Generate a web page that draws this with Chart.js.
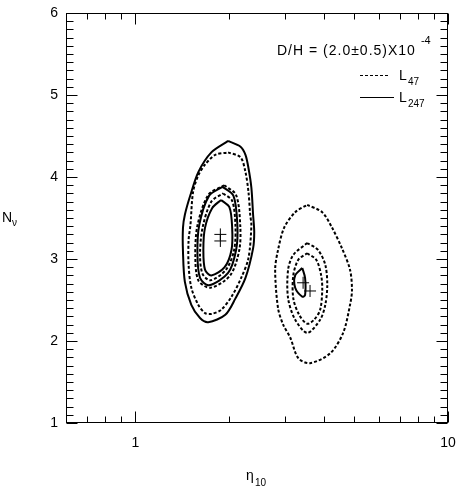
<!DOCTYPE html>
<html><head><meta charset="utf-8">
<script src="https://cdn.jsdelivr.net/npm/chart.js@4.4.1/dist/chart.umd.min.js"></script>
<style>html,body{margin:0;padding:0;background:#fff}#wrap{width:461px;height:488px}</style>
</head><body><div id="wrap"><canvas id="c" width="461" height="488"></canvas></div>
<script>
// ---- axis ticks ----
const xTickLabels = [1, 10];
const xMinorTicks = [0.7, 0.8, 0.9, 2, 3, 4, 5, 6, 7, 8, 9];
const yTickLabels = [1, 2, 3, 4, 5, 6];

// ---- contours (eta10, N_nu) ----
// left group, L247 (solid) and L47 (dashed)
const L247_outer = [[1.98,4.44],[2.17,4.37],[2.25,4.27],[2.30,4.11],[2.35,3.87],[2.38,3.54],[2.40,3.33],[2.38,3.13],[2.25,2.77],[2.09,2.52],[1.94,2.32],[1.71,2.23],[1.61,2.28],[1.51,2.44],[1.44,2.72],[1.42,3.09],[1.42,3.38],[1.44,3.54],[1.50,3.78],[1.59,4.06],[1.75,4.30],[1.98,4.44]];
const L47_outerA = [[1.98,4.30],[2.17,4.24],[2.25,4.06],[2.30,3.82],[2.33,3.54],[2.35,3.41],[2.30,3.01],[2.18,2.77],[2.03,2.54],[1.88,2.38],[1.75,2.33],[1.67,2.34],[1.59,2.44],[1.51,2.65],[1.48,2.93],[1.48,3.23],[1.50,3.41],[1.53,3.82],[1.59,4.02],[1.67,4.15],[1.80,4.27],[1.98,4.30]];
const L47_innerA = [[1.925,3.90],[2.10,3.78],[2.165,3.41],[2.15,3.11],[2.01,2.80],[1.74,2.65],[1.59,2.74],[1.555,3.05],[1.58,3.41],[1.71,3.78],[1.925,3.90]];
const L247_innerA = [[1.90,3.88],[2.06,3.77],[2.12,3.41],[2.10,3.11],[1.98,2.83],[1.72,2.68],[1.61,2.77],[1.58,3.05],[1.60,3.41],[1.72,3.77],[1.90,3.88]];
const L47_innerB = [[1.91,3.80],[2.04,3.71],[2.09,3.41],[2.07,3.11],[1.95,2.87],[1.74,2.74],[1.64,2.82],[1.61,3.05],[1.64,3.38],[1.75,3.70],[1.91,3.80]];
const L247_innerB = [[1.88,3.72],[2.00,3.63],[2.04,3.38],[2.03,3.11],[1.93,2.90],[1.75,2.80],[1.67,2.87],[1.65,3.11],[1.67,3.38],[1.76,3.62],[1.88,3.72]];
// right group
const L47_outerB = [[3.545,3.66],[3.96,3.57],[4.26,3.38],[4.58,3.13],[4.86,2.87],[4.93,2.62],[4.86,2.44],[4.62,2.10],[4.20,1.85],[3.62,1.73],[3.32,1.79],[3.13,2.04],[2.97,2.20],[2.86,2.40],[2.80,2.87],[2.86,3.11],[2.99,3.38],[3.245,3.57],[3.545,3.66]];
const L47_midB = [[3.545,3.195],[3.84,3.11],[4.05,2.93],[4.11,2.68],[4.05,2.44],[3.90,2.26],[3.545,2.10],[3.245,2.26],[3.08,2.52],[3.08,2.87],[3.20,3.05],[3.545,3.195]];
const L47_innerC = [[3.545,3.07],[3.79,2.99],[3.93,2.80],[3.96,2.62],[3.90,2.38],[3.73,2.26],[3.545,2.21],[3.34,2.32],[3.20,2.52],[3.20,2.80],[3.32,2.99],[3.545,3.07]];
const L247_small = [[3.42,2.89],[3.245,2.80],[3.245,2.65],[3.42,2.54],[3.49,2.56],[3.49,2.77],[3.42,2.89]];
// best-fit crosses
const bestFit = [[1.87,3.30],[1.87,3.22],[3.44,2.71],[3.62,2.61]];

const legendTitle = 'D/H = (2.0\u00B10.5)X10';
const legendExp = '-4';
const seriesNames = ['47', '247'];

const FONT = '"Liberation Sans", Arial, Helvetica, sans-serif';
const toPts = a => a.map(p => ({x: p[0], y: p[1]}));
function contour(arr, dashed, width) {
  return {data: toPts(arr), showLine: true, borderColor: '#000', borderWidth: width || 2,
    borderDash: dashed ? [3, 2] : [], pointRadius: 0, tension: 0.3, fill: false};
}

const framePlugin = {
  id: 'frame',
  afterDraw(chart) {
    const {ctx, chartArea: a, scales: {x, y}} = chart;
    ctx.save();
    ctx.strokeStyle = '#000';
    ctx.lineWidth = 1;
    const L = Math.round(a.left) + 0.5, R = Math.round(a.right) - 0.5;
    const T = Math.round(a.top) + 0.5, B = Math.round(a.bottom) - 0.5;
    ctx.strokeRect(L, T, R - L, B - T);
    ctx.beginPath();
    for (let i = 10; i <= 60; i++) {
      const v = i / 10, py = Math.round(y.getPixelForValue(v)) + 0.5;
      const len = (i % 10 === 0) ? 11 : 7;
      ctx.moveTo(L, py); ctx.lineTo(L + len, py);
      ctx.moveTo(R, py); ctx.lineTo(R - len, py);
    }
    const xt = xMinorTicks.map(v => [v, 6]).concat(xTickLabels.map(v => [v, 11]));
    xt.forEach(([v, len]) => {
      const px = Math.round(x.getPixelForValue(v)) + 0.5;
      ctx.moveTo(px, B); ctx.lineTo(px, B - len);
      ctx.moveTo(px, T); ctx.lineTo(px, T + len);
    });
    ctx.stroke();

    // legend
    ctx.fillStyle = '#000';
    ctx.textBaseline = 'alphabetic';
    ctx.font = '14px ' + FONT;
    ctx.letterSpacing = '1px';
    ctx.fillText(legendTitle, 277, 55);
    const w = ctx.measureText(legendTitle).width;
    ctx.letterSpacing = '0px';
    ctx.font = '11px ' + FONT;
    ctx.fillText(legendExp, 277 + w + 5, 44);

    ctx.beginPath();
    ctx.setLineDash([3, 2]);
    ctx.moveTo(360, 75.5); ctx.lineTo(388, 75.5);
    ctx.stroke();
    ctx.setLineDash([]);
    ctx.beginPath();
    ctx.moveTo(360, 97.5); ctx.lineTo(394, 97.5);
    ctx.stroke();
    ctx.font = '14px ' + FONT;
    ctx.fillText('L', 399, 80);
    ctx.fillText('L', 399, 102);
    ctx.font = '10px ' + FONT;
    ctx.fillText(seriesNames[0], 408, 85);
    ctx.fillText(seriesNames[1], 408, 107);

    // axis titles
    ctx.font = '14px ' + FONT;
    ctx.fillText('N', 2, 222);
    ctx.fillText('\u03B7', 246, 480);
    ctx.font = '10px ' + FONT;
    ctx.fillText('\u03BD', 12, 226);
    ctx.fillText('10', 255, 486);
    ctx.restore();
  }
};

new Chart(document.getElementById('c'), {
  type: 'scatter',
  data: {
    datasets: [
      contour(L247_outer, false, 2),
      contour(L47_outerA, true, 2),
      contour(L47_innerA, true, 2),
      contour(L247_innerA, false, 2),
      contour(L47_innerB, true, 2),
      contour(L247_innerB, false, 2),
      contour(L47_outerB, true, 2),
      contour(L47_midB, true, 2),
      contour(L47_innerC, true, 2),
      contour(L247_small, false, 2),
      {data: toPts(bestFit), showLine: false, pointStyle: 'cross', pointRadius: 6,
       borderColor: '#000', borderWidth: 1, backgroundColor: '#000'}
    ]
  },
  options: {
    responsive: false, animation: false, devicePixelRatio: 1,
    layout: {autoPadding: false, padding: {top: 13, right: 13, left: 0, bottom: 0}},
    plugins: {legend: {display: false}, tooltip: {enabled: false}},
    scales: {
      x: {
        type: 'logarithmic', min: 0.6, max: 10,
        grid: {display: false, drawTicks: false}, border: {display: false},
        afterBuildTicks: s => { s.ticks = xTickLabels.map(v => ({value: v})); },
        afterFit: s => { s.height = 65; s.paddingLeft = 0; s.paddingRight = 0; },
        ticks: {color: '#000', font: {size: 14, family: FONT}, padding: 12,
                maxRotation: 0, autoSkip: false, callback: v => String(v)}
      },
      y: {
        type: 'linear', min: 1, max: 6,
        grid: {display: false, drawTicks: false}, border: {display: false},
        afterBuildTicks: s => { s.ticks = yTickLabels.map(v => ({value: v})); },
        afterFit: s => { s.width = 66; s.paddingTop = 0; s.paddingBottom = 0; },
        ticks: {color: '#000', font: {size: 14, family: FONT}, padding: 8,
                callback: v => String(v)}
      }
    }
  },
  plugins: [framePlugin]
});
</script>
</body></html>
